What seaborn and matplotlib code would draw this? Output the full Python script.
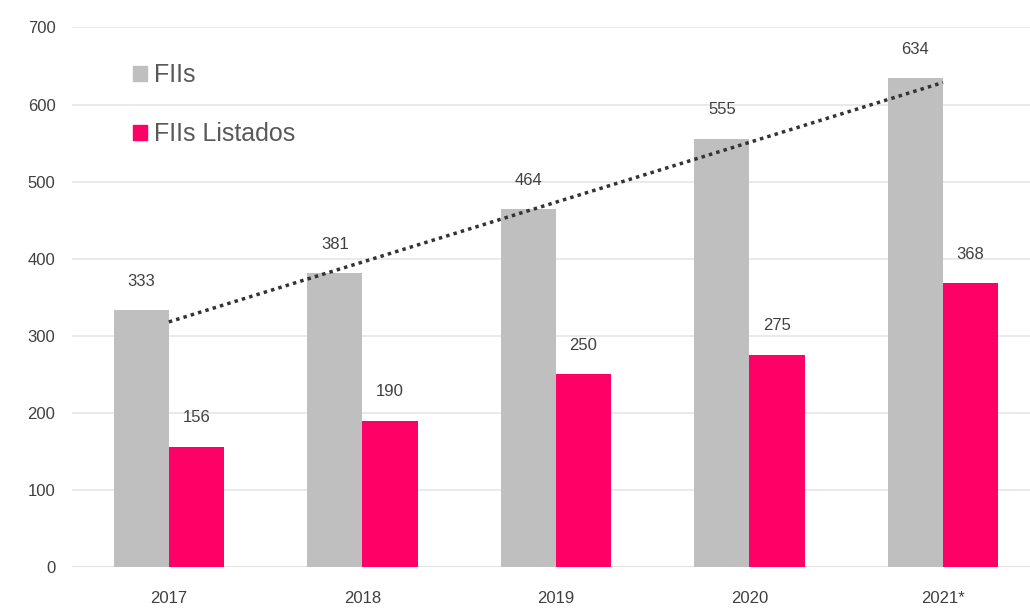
import numpy as np
import pandas as pd
import seaborn as sns
import matplotlib
matplotlib.use("Agg")
import matplotlib.pyplot as plt
from matplotlib.patches import Patch

categories = ["2017", "2018", "2019", "2020", "2021*"]
fiis = [333, 381, 464, 555, 634]
fiis_listados = [156, 190, 250, 275, 368]
series_names = ["FIIs", "FIIs Listados"]
colors = ["#BFBFBF", "#FF0066"]

df = pd.DataFrame({
    "ano": categories * 2,
    "valor": fiis + fiis_listados,
    "serie": [series_names[0]] * len(categories) + [series_names[1]] * len(categories),
})

sns.set_theme(style="white")
plt.rcParams['font.family'] = ['Liberation Sans Narrow', 'Liberation Sans', 'DejaVu Sans']

fig = plt.figure(figsize=(10.3, 6.1), dpi=100)
ax = fig.add_axes([0.07, 0.07, 0.93, 0.885])

sns.barplot(data=df, x="ano", y="valor", hue="serie", palette=colors,
            width=0.57, ax=ax, legend=False, saturation=1, linewidth=0)

ax.set_ylim(0, 700)
ax.set_xlim(-0.5, 4.45)
ax.set_yticks(range(0, 701, 100))
ax.yaxis.grid(True, color="#E6E6E6", linewidth=1.2)
ax.set_axisbelow(True)
for s in ax.spines.values():
    s.set_visible(False)
ax.axhline(0, color="#D9D9D9", linewidth=1.5, zorder=0.5)
ax.set_xlabel("")
ax.set_ylabel("")
ax.tick_params(axis="x", length=0, labelsize=12, colors="#404040", pad=17)
ax.tick_params(axis="y", length=0, labelsize=12, colors="#404040", pad=12)

# value labels
for cont in ax.containers:
    for rect in cont:
        h = rect.get_height()
        ax.text(rect.get_x() + rect.get_width() / 2, h + 38, f"{int(round(h))}",
                ha="center", va="center", fontsize=12, color="#404040")

# linear trendline over FIIs
xs = np.arange(len(categories))
coef = np.polyfit(xs, fiis, 1)
ax.plot(xs, np.polyval(coef, xs), linestyle=(0, (1, 1.2)), color="#333333",
        linewidth=2.5, zorder=5)

handles = [Patch(color=colors[0], label=series_names[0]),
           Patch(color=colors[1], label=series_names[1])]
ax.legend(handles=handles, loc="upper left", bbox_to_anchor=(0.04, 0.975),
          frameon=False, fontsize=18, handlelength=0.55, handleheight=0.55,
          handletextpad=0.3, labelspacing=1.4, labelcolor="#595959")

fig.savefig("out.png", dpi=100)
